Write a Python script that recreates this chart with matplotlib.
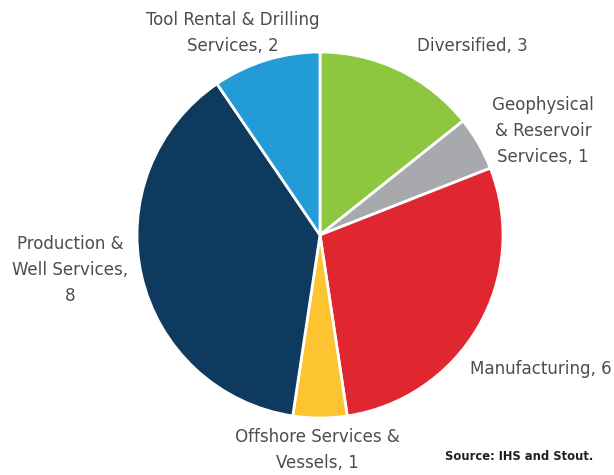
import matplotlib
matplotlib.use("Agg")
import matplotlib.pyplot as plt

categories = ["Diversified", "Geophysical\n& Reservoir\nServices", "Manufacturing",
              "Offshore Services &\nVessels", "Production &\nWell Services,\n", "Tool Rental & Drilling\nServices"]
values = [3, 1, 6, 1, 8, 2]
colors = ["#8DC63F", "#A7A9AC", "#E0262E", "#FDC432", "#0F3A5F", "#229BD6"]

fig = plt.figure(figsize=(6.14, 4.75), dpi=100)
W, H = 614, 475
cx, cy, r = 320, 235, 183
ax = fig.add_axes([(cx - r) / W, (H - cy - r) / H, 2 * r / W, 2 * r / H])
ax.pie(values, colors=colors, startangle=90, counterclock=False,
       wedgeprops=dict(edgecolor="white", linewidth=2))
ax.set_xlim(-1, 1)
ax.set_ylim(-1, 1)
ax.set_aspect("equal")

labels = []
for c, v in zip(categories, values):
    if c.endswith("\n"):
        labels.append(f"{c}{v}")
    else:
        labels.append(f"{c}, {v}")

pos = [(472, 46, "center"), (543, 131, "center"), (612, 369, "right"),
       (317, 450, "center"), (70, 270, "center"), (233, 33, "center")]
tc = "#4D4D4F"
for lab, (x, y, ha) in zip(labels, pos):
    fig.text(x / W, 1 - y / H, lab, ha=ha, va="center", fontsize=13.3,
             color=tc, family="DejaVu Sans", fontstretch="condensed", linespacing=1.6)

fig.text(593 / W, 1 - 456 / H, "Source: IHS and Stout.", ha="right", va="center",
         fontsize=9.3, color="#231F20", family="DejaVu Sans", fontstretch="condensed",
         fontweight="bold")

fig.savefig("out.png", dpi=100)
